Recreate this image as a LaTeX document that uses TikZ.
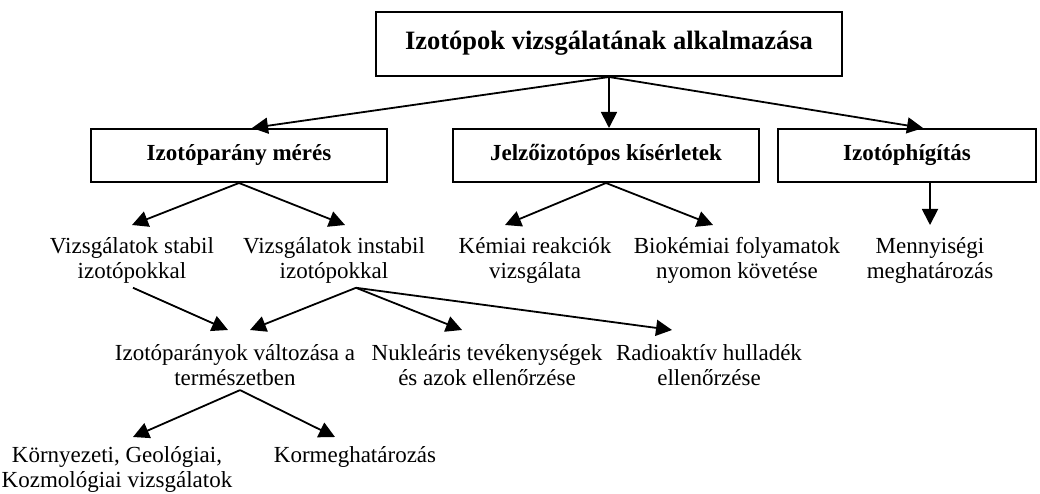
\documentclass[tikz,border=0pt]{standalone}
\usepackage{fontspec}
\setmainfont{Liberation Serif}
\usetikzlibrary{arrows.meta}
\begin{document}
\begin{tikzpicture}[x=1pt,y=-1pt,
  box/.style={draw, line width=2pt, font=\bfseries\fontsize{23}{26}\selectfont, minimum height=53pt, inner sep=0pt, text height=16pt, text depth=5pt},
  titlebox/.style={box, font=\bfseries\fontsize{26.5}{30}\selectfont, minimum height=64pt, text height=18pt, text depth=6pt},
  lbl/.style={align=center, font=\fontsize{23}{25.5}\selectfont, inner sep=0pt, anchor=north},
  arr/.style={line width=1.8pt, -{Triangle[length=16pt,width=16pt]}}]
\useasboundingbox (0,0) rectangle (1040,494);
% boxes
\node[titlebox, minimum width=466pt] (top) at (609,44) {Izotópok vizsgálatának alkalmazása};
\node[box, minimum width=296pt] (b2) at (239,155.5) {Izotóparány mérés};
\node[box, minimum width=306pt] (b3) at (606,155.5) {Jelzőizotópos kísérletek};
\node[box, minimum width=258pt] (b4) at (907,155.5) {Izotóphígítás};
% level 2 texts
\node[lbl] (s1) at (132,237) {Vizsgálatok stabil\\izotópokkal};
\node[lbl] (s2) at (334,237) {Vizsgálatok instabil\\izotópokkal};
\node[lbl] (k1) at (535,237) {Kémiai reakciók\\vizsgálata};
\node[lbl] (k2) at (737,237) {Biokémiai folyamatok\\nyomon követése};
\node[lbl] (m1) at (930,237) {Mennyiségi\\meghatározás};
% level 3 texts
\node[lbl] (i1) at (235,344) {Izotóparányok változása a\\természetben};
\node[lbl] (n1) at (487,344) {Nukleáris tevékenységek\\és azok ellenőrzése};
\node[lbl] (r1) at (709,344) {Radioaktív hulladék\\ellenőrzése};
% level 4 texts
\node[lbl] (e1) at (117,446) {Környezeti, Geológiai,\\Kozmológiai vizsgálatok};
\node[lbl] (k3) at (355,446) {Kormeghatározás};
% connectors from top
\draw[arr] (top.south) -- ([xshift=13pt]b2.north);
\draw[arr] (top.south) -- (top.south |- b3.north);
\draw[arr] (top.south) -- ([xshift=16pt]b4.north);
% level 2
\draw[arr] (b2.south) -- ([yshift=12pt]s1.north);
\draw[arr] (b2.south) -- ([xshift=11pt,yshift=12pt]s2.north);
\draw[arr] (b3.south) -- ([xshift=-30pt,yshift=12pt]k1.north);
\draw[arr] (b3.south) -- ([xshift=-24pt,yshift=12pt]k2.north);
\draw[arr] (m1.north |- b4.south) -- ([yshift=12pt]m1.north);
% level 3
\draw[arr] ([xshift=1pt,yshift=-4pt]s1.south) -- ([xshift=-7pt,yshift=14pt]i1.north);
\draw[arr] ([xshift=22pt,yshift=-4pt]s2.south) -- ([xshift=15pt,yshift=14pt]i1.north);
\draw[arr] ([xshift=22pt,yshift=-4pt]s2.south) -- ([xshift=-25pt,yshift=14pt]n1.north);
\draw[arr] ([xshift=22pt,yshift=-4pt]s2.south) -- ([xshift=-37pt,yshift=14pt]r1.north);
% level 4
\draw[arr] ([xshift=5pt,yshift=-4pt]i1.south) -- ([xshift=16pt,yshift=9pt]e1.north);
\draw[arr] ([xshift=5pt,yshift=-4pt]i1.south) -- ([xshift=-20pt,yshift=9pt]k3.north);
\end{tikzpicture}
\end{document}
